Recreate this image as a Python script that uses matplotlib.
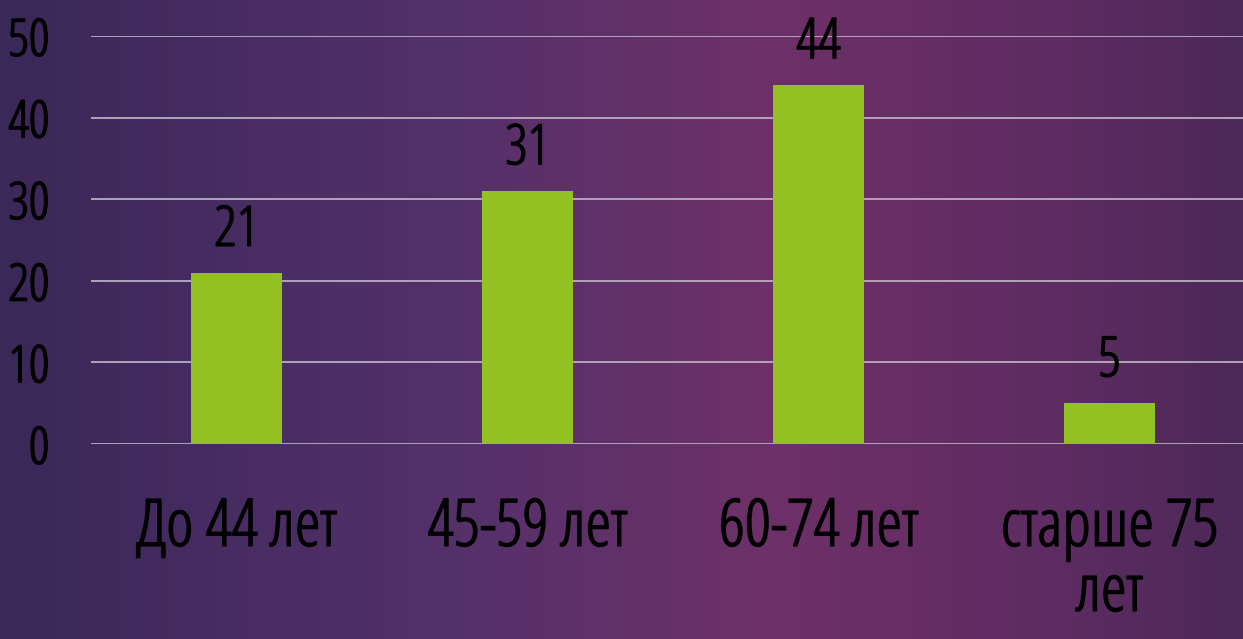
import numpy as np
import matplotlib.pyplot as plt
import matplotlib.patheffects as pe
from matplotlib.colors import LinearSegmentedColormap

# данные
categories = ["До 44 лет", "45-59 лет", "60-74 лет", "старше 75\nлет"]
values = [21, 31, 44, 5]
yticks = [0, 10, 20, 30, 40, 50]

# узкий шрифт, чуть утолщённый обводкой
FONT = dict(family=["Open Sans", "DejaVu Sans"], stretch="condensed",
            path_effects=[pe.withStroke(linewidth=1.1, foreground="black")])


def main():
    fig = plt.figure(figsize=(12.43, 6.39), dpi=100)

    # фон: фиолетовый градиент
    bg = fig.add_axes([0, 0, 1, 1], zorder=-1)
    cmap = LinearSegmentedColormap.from_list(
        "bg", [(0.0, "#3a2858"), (0.35, "#53306a"), (0.62, "#6e3068"),
               (0.85, "#5e2c62"), (1.0, "#4c2858")])
    xs = np.linspace(0, 1, 400)
    grad = np.tile(xs, (50, 1))
    bg.imshow(grad, cmap=cmap, aspect="auto", extent=[0, 1, 0, 1])
    bg.axis("off")

    ax = fig.add_axes([91 / 1243, 1 - 444 / 639, (1243 - 91) / 1243, (444 - 36) / 639])
    ax.patch.set_alpha(0)
    x = np.arange(len(categories))
    bars = ax.bar(x, values, width=0.3125, color="#93c123", zorder=3)

    for b, v in zip(bars, values):
        ax.annotate(str(v), (b.get_x() + b.get_width() / 2, v), xytext=(0, 10),
                    textcoords="offset points", ha="center", va="bottom",
                    fontsize=40, color="black", **FONT)

    ax.set_ylim(0, 50)
    ax.set_xlim(-0.5, -0.5 + (1243 - 91) / 291)
    ax.set_yticks(yticks)
    ax.set_yticklabels([str(t) for t in yticks], fontsize=37, **FONT)
    ax.set_xticks(x)
    ax.set_xticklabels(categories, fontsize=47, linespacing=1.0, **FONT)
    ax.tick_params(axis="y", length=0, pad=30, colors="black")
    ax.tick_params(axis="x", length=0, pad=38, colors="black")
    ax.grid(axis="y", color="#b8aec0", linewidth=1.3, zorder=0)
    for s in ax.spines.values():
        s.set_visible(False)

    fig.savefig("out.png", dpi=100)


if __name__ == "__main__":
    main()
